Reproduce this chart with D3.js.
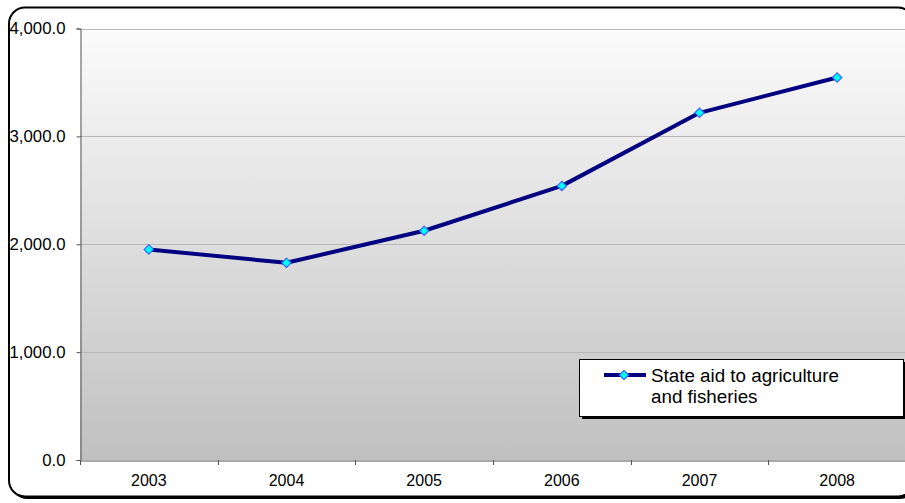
<!DOCTYPE html>
<html><head><meta charset="utf-8">
<script src="https://cdn.jsdelivr.net/npm/d3@7"></script>
<style>html,body{margin:0;padding:0;background:#fff;overflow:hidden}</style>
</head><body>
<svg id="c" width="905" height="503"></svg>
<script>
const years = ["2003","2004","2005","2006","2007","2008"];
const values = [1952, 1828, 2125, 2541, 3218, 3546];
const yTicks = [0, 1000, 2000, 3000, 4000];
const seriesName = ["State aid to agriculture", "and fisheries"];

const svg = d3.select("#c");
const font = "'Liberation Sans', Arial, sans-serif";
const L = 80, T = 28.5, R = 906, B = 460;

const defs = svg.append("defs");
const grad = defs.append("linearGradient").attr("id","bg").attr("x1",0).attr("y1",0).attr("x2",0).attr("y2",1);
grad.append("stop").attr("offset","0%").attr("stop-color","#fbfbfb");
grad.append("stop").attr("offset","100%").attr("stop-color","#c0c0c0");

// outer frame with shadow
svg.append("rect").attr("x",11).attr("y",9).attr("width",905).attr("height",490).attr("rx",16).attr("fill","#000");
svg.append("rect").attr("x",9).attr("y",7.5).attr("width",905).attr("height",489).attr("rx",16)
  .attr("fill","#fff").attr("stroke","#000").attr("stroke-width",2);

const x = d3.scaleBand().domain(years).range([L, R]);
const y = d3.scaleLinear().domain([0, 4000]).range([B, T]);

svg.append("rect").attr("x",L).attr("y",T).attr("width",R-L).attr("height",B-T).attr("fill","url(#bg)");

// gridlines
svg.append("g").selectAll("line").data(yTicks.filter(d=>d>0)).join("line")
  .attr("x1",L).attr("x2",R).attr("y1",d=>Math.round(y(d))+0.5).attr("y2",d=>Math.round(y(d))+0.5)
  .attr("stroke","#b8b8b8").attr("stroke-width",1);

// y axis
const ya = svg.append("g").attr("transform",`translate(${L+0.5},0)`)
  .call(d3.axisLeft(y).tickValues(yTicks).tickSize(4).tickPadding(11).tickFormat(d3.format(",.1f")));
ya.attr("font-size",null).attr("font-family",null);
ya.select(".domain").attr("stroke","#555");
ya.selectAll(".tick line").attr("stroke","#555");
ya.selectAll("text").style("font-family",font).style("font-size","16.8px").attr("fill","#000");

// x axis
const xa = svg.append("g").attr("transform",`translate(0,${B+0.5})`)
  .call(d3.axisBottom(x).tickSize(0).tickPadding(14));
xa.attr("font-size",null).attr("font-family",null);
xa.select(".domain").attr("stroke","#555");
xa.selectAll("text").style("font-family",font).style("font-size","16px").attr("fill","#000");
svg.append("g").selectAll("line").data(years.map(d=>x(d)).concat([R])).join("line")
  .attr("x1",d=>Math.round(d)+0.5).attr("x2",d=>Math.round(d)+0.5).attr("y1",B).attr("y2",B+5)
  .attr("stroke","#555");

// line
const line = d3.line().x((d,i)=>x(years[i])+x.bandwidth()/2).y(d=>y(d));
svg.append("path").datum(values).attr("d",line).attr("fill","none")
  .attr("stroke","#000080").attr("stroke-width",4).attr("stroke-linejoin","round");

const diamond = d3.symbol().type(d3.symbolDiamond2).size(55);
svg.append("g").selectAll("path").data(values).join("path")
  .attr("d", diamond)
  .attr("transform",(d,i)=>`translate(${x(years[i])+x.bandwidth()/2},${y(d)})`)
  .attr("fill","#00ffff").attr("stroke","#3366ff").attr("stroke-width",1.2);

// legend
const lx = 579, ly = 359, lw = 324, lh = 57;
svg.append("rect").attr("x",lx+3).attr("y",ly+3).attr("width",lw).attr("height",lh).attr("fill","#000");
svg.append("rect").attr("x",lx+0.5).attr("y",ly+0.5).attr("width",lw).attr("height",lh)
  .attr("fill","#fff").attr("stroke","#000").attr("stroke-width",1);
svg.append("line").attr("x1",604).attr("x2",646).attr("y1",375).attr("y2",375)
  .attr("stroke","#000080").attr("stroke-width",4);
svg.append("path").attr("d",diamond).attr("transform","translate(624,375)")
  .attr("fill","#00ffff").attr("stroke","#3366ff").attr("stroke-width",1.2);
svg.append("text").attr("x",651).attr("y",382).style("font-family",font).style("font-size","18.8px")
  .selectAll("tspan").data(seriesName).join("tspan").attr("x",651).attr("dy",(d,i)=>i?21:0).text(d=>d);
</script>
</body></html>
